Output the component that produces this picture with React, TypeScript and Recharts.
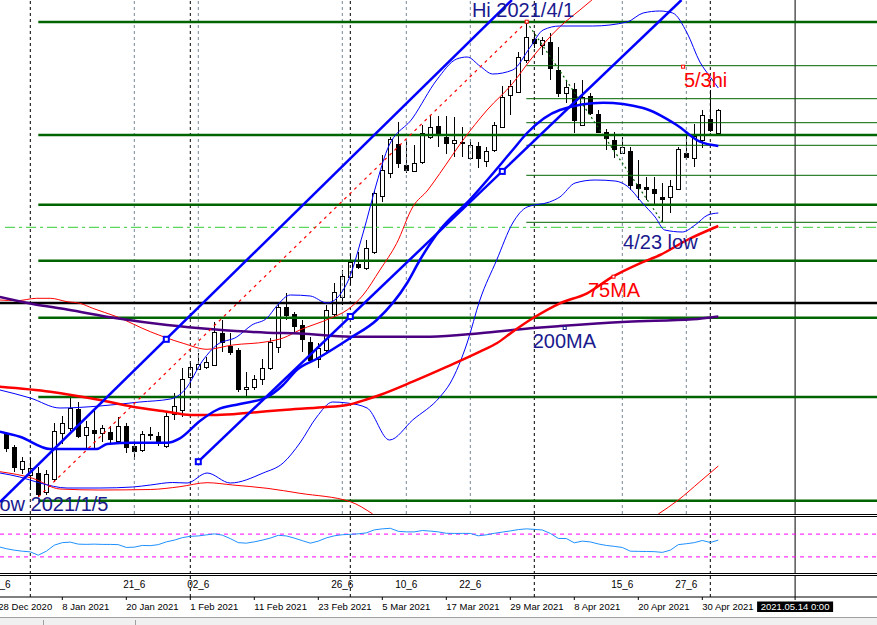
import React from 'react'
import { ComposedChart, Bar, Line, Scatter, XAxis, YAxis, ReferenceLine } from 'recharts'

const W = 877
const MAIN_H = 514
const X_MIN = -0.7875
const X_MAX = X_MIN + W / 8
const FONT = '"Liberation Sans", Arial, sans-serif'
const NAVY = '#1a1a8e'
const BLUE = '#0000ff'
const RED = '#ff0000'
const GREEN = '#006400'

// daily bars, index 0 = 29 Dec 2020; price in pane units (0 = bottom of main pane)
const OPEN = [81, 67, 45, 39, 41, 22, 35, 81, 86, 105, 79, 84, 81, 82, 73, 88, 68, 64, 79.5, 78, 68, 100, 104, 137, 145, 147, 149, 181, 168, 164, 125, 127, 135, 146, 167, 207, 200, 189, 172, 155, 164, 200, 217, 237, 250, 246, 262, 318, 341, 370, 349, 343, 352, 377, 388, 377, 371, 372.5, 356, 368, 353, 364, 387, 419, 422, 454, 475, 469, 472, 444, 421, 425, 389, 418, 400, 382, 374, 361, 363, 330, 327, 325, 317, 317, 325, 361, 356, 374, 395, 381]
const HIGH = [82.3, 69, 57, 56, 47, 44, 91, 98, 116, 112, 93, 104, 89, 88, 97, 91, 73, 83, 87, 82, 102, 121, 146, 151, 161, 157, 192, 194, 181, 166, 142, 139, 155, 176, 212, 221, 202, 194, 177, 171, 209, 231, 244, 260, 262, 274, 323, 359, 377, 392, 374, 369, 389, 399, 398, 398, 397, 387, 375, 372, 367, 392, 428, 434, 462, 492, 481, 477, 481, 467, 434, 431, 434, 421, 404, 385, 382, 377, 367, 354, 337, 337, 331, 334, 367, 382, 390, 404, 424, 405]
const LOW = [62.3, 42, 40, 24, 17, 19, 32, 70, 83, 76, 65, 66, 72, 71, 70, 61, 54, 62, 74, 68, 66, 94, 97, 126, 144, 145, 148, 162, 159, 122, 118, 124, 129, 144, 161, 194, 181, 162, 151, 146, 162, 197, 209, 229, 245, 244, 260, 312, 336, 346, 341, 342, 350, 375, 367, 360, 357, 357, 354, 346, 347, 362, 386, 399, 421, 451, 466, 459, 434, 417, 411, 381, 388.5, 399, 381, 364, 356, 360, 324, 314, 314, 310, 292, 301, 324, 354, 347, 366, 382, 380]
const CLOSE = [66, 47, 53, 46, 20, 40, 83, 91, 106, 78, 87, 81, 86, 75, 88, 67, 63, 80, 80.5, 71, 98, 108, 135, 147, 150, 152, 182, 172, 162, 125, 127.5, 135, 146, 172, 207, 199, 188, 175, 154, 166, 204, 222, 238, 252, 247, 266, 321, 344, 375, 351, 344, 351, 381, 387, 381, 371, 374, 372, 369, 356, 363, 389, 417, 428, 457, 477, 471, 474, 446, 421, 427, 394, 417, 401, 382, 376, 365, 367, 329, 326, 324.5, 321, 314.5, 328, 365, 357, 378, 399, 384, 404]

// indicators, [bar, value]
const MA20 = [[-0.8, 82.3], [1.7, 77.3], [5.5, 65], [11.3, 65], [12.6, 70], [15.8, 71.3], [20.1, 71.3], [21.7, 75.7], [24.2, 93], [26.3, 104], [29.2, 110], [32.6, 117], [34.6, 129], [36.3, 144], [39, 156], [43, 176], [46.3, 194], [50.1, 231], [51.7, 254], [54.2, 284], [57.9, 314], [63.3, 364], [65.1, 381], [69.2, 404], [74.6, 411.3], [79.6, 406], [83.8, 389], [86.7, 372.3], [89, 368]]
const BB_UP = [[-0.8, 124], [3, 116], [6.7, 106], [11.7, 108], [16.7, 112], [20.5, 115], [22.3, 124], [24.6, 154], [26.3, 169], [28.8, 177], [30.7, 189], [32.6, 196], [33.8, 208], [35.5, 219], [38, 218], [40.1, 211], [42.6, 231], [44.6, 281], [46.3, 331], [47.6, 364], [50.8, 396], [53.8, 434], [56.3, 455], [57.6, 457], [59.2, 448], [60.8, 440], [63.3, 444], [65.5, 467], [67.1, 484], [69.2, 488], [73.3, 488], [77.6, 492], [79.6, 501], [81.7, 503], [83.3, 501], [85.1, 481], [86.7, 452], [88, 437], [89, 426]]
const BB_LOW = [[-0.8, 41], [1.7, 37], [4.2, 31], [7.6, 26], [11.7, 26], [15.8, 27], [18, 29], [20.8, 31.5], [22.6, 31], [25.1, 41], [28, 31], [32.1, 41], [34.6, 51], [36.7, 71], [38.8, 97], [40.8, 112], [42.6, 111], [45.1, 106], [47.9, 74], [50.8, 94], [54.2, 117], [55.5, 131], [57.6, 171], [59.2, 214], [61.3, 254], [63.3, 291], [65.1, 307], [67.9, 312], [69.2, 317], [71.1, 331], [73.6, 334], [76.1, 333], [77.6, 328], [79.5, 311], [81.1, 297], [82.3, 284], [84.5, 282], [86.1, 289], [87.7, 299], [89, 301]]
const MA75 = [[-0.8, 127.3], [5.5, 122.3], [11.7, 114], [15.8, 107.3], [20.1, 102.3], [23, 99], [26.3, 99], [30.5, 101.3], [34.6, 104], [39.6, 106.7], [42.6, 109], [45.1, 114.7], [46.7, 119], [50.8, 132.3], [55.1, 147.3], [59.2, 162.3], [61.3, 170.7], [63.3, 182.3], [65.8, 195.7], [69.2, 210.7], [72.6, 220.7], [75.8, 237.3], [79.2, 250.7], [81.7, 259], [85.1, 274], [89, 288]]
const BB75_UP = [[-0.8, 214], [1.3, 213.3], [3.8, 215.7], [5.5, 215.7], [7.6, 212.3], [9.2, 210.7], [10.8, 205.7], [13.8, 197.3], [18, 182.3], [22.1, 170.7], [25.1, 164.7], [28.3, 169], [32.6, 172.3], [34.6, 176], [36.7, 184], [40.5, 195.7], [42.6, 204], [44.6, 219], [46.7, 244], [48.8, 270.7], [50.8, 307], [52.7, 324], [54.2, 340.7], [57.1, 374], [60.1, 404], [63.3, 430.7], [65.5, 454], [69.2, 487.3], [71.7, 504], [73.2, 514]]
const BB75_LOW_A = [[-0.8, 42.3], [3.3, 35.7], [6.7, 25], [11.7, 24], [18, 24.5], [21.7, 27.3], [25.1, 31.3], [28.3, 29], [32.6, 25.7], [36.7, 20.7], [43, 12.3], [45.8, 0]]
const BB75_LOW_B = [[81.5, 0], [84, 14], [86.7, 32.3], [89, 48]]
const MA200 = [[-0.8, 217], [3.3, 210], [7.6, 204.5], [13.8, 195.7], [20.1, 189], [25.8, 184.7], [32.6, 181.3], [36.7, 180.5], [43, 177.3], [53, 177.3], [59.2, 180.7], [65.5, 185.7], [69.2, 188], [77.6, 192.3], [85.8, 194.7], [89, 197.5]]

// drawn objects
const UPPER_CHANNEL = [[X_MIN, 12], [63.2, 514]]
const LOWER_CHANNEL = [[24, 52.3], [84.4, 514]]
const RED_TREND = [[4, 17], [65.05, 492.3]]
const GREEN_TREND = [[65.05, 492], [82, 292]]
const FIB_LEVELS = [492, 379, 309.3, 253.3, 196.3, 117, 13.3]
const FIB_FROM = 4
const RETRACE_LEVELS = [448.3, 415.3, 391.3, 368.7, 338.7, 291.7]
const RETRACE_FROM = 65
const LIME_LEVEL = 286.7
const LIME_FROM = -0.16
const BLACK_LEVEL = 211
const BLACK_VLINES = [3, 23, 43, 66, 88]
const GREY_VLINES = [16, 24, 42, 50, 58, 77, 85]
const CURSOR_K = 98.6

const MARKERS = [
  { k: 20, v: 174.7, color: BLUE, size: 5, sw: 2 },
  { k: 24, v: 52.3, color: BLUE, size: 5, sw: 2 },
  { k: 43, v: 197.5, color: BLUE, size: 5, sw: 2 },
  { k: 62, v: 342.6, color: BLUE, size: 5, sw: 2 },
  { k: 65.05, v: 492.3, color: RED, size: 3, sw: 1 },
  { k: 84.6, v: 447.3, color: RED, size: 3, sw: 1 },
  { k: 75.9, v: 237.3, color: RED, size: 3, sw: 1 },
  { k: 69.8, v: 186, color: NAVY, size: 3, sw: 1 },
]

const NOTES = [
  { k: 58.2, v: 497.5, text: 'Hi 2021/4/1', color: NAVY },
  { k: 84.7, v: 427, text: '5/3hi', color: RED },
  { k: 77.1, v: 265, text: '4/23 low', color: NAVY },
  { k: 72.7, v: 217, text: '75MA', color: RED },
  { k: 65.8, v: 166, text: '200MA', color: NAVY },
  { k: -1.41, v: 3, text: 'low 2021/1/5', color: NAVY },
]

// RSI from bar -1
const RSI_FIRST = -1
const RSI = [48.0, 44.4, 41.8, 40.0, 38.8, 33.0, 40.0, 50.6, 55.0, 55.9, 52.4, 52.0, 52.4, 51.9, 51.9, 51.5, 46.6, 47.1, 50.1, 49.7, 51.5, 56.4, 59.4, 63.8, 66.1, 66.8, 68.6, 70.4, 68.2, 62.1, 55.0, 54.1, 56.4, 59.4, 63.0, 67.9, 66.8, 63.0, 58.5, 54.1, 57.7, 63.3, 67.0, 68.9, 69.6, 70.5, 72.1, 77.4, 79.2, 80.2, 74.9, 73.9, 73.9, 76.3, 75.3, 73.9, 71.4, 71.2, 71.2, 71.2, 67.0, 68.7, 71.4, 73.5, 75.6, 77.9, 79.2, 78.3, 77.2, 71.2, 62.4, 62.2, 54.7, 57.7, 56.3, 52.7, 50.1, 48.5, 46.6, 40.0, 39.7, 39.5, 39.2, 37.9, 41.8, 51.5, 53.1, 55.0, 58.8, 55.3, 59.4]

const DATE_TICKS = [-1, 7, 15, 23, 31, 39, 47, 55, 63, 71, 79, 87]
const DATE_LABELS = ['28 Dec 2020', '8 Jan 2021', '20 Jan 2021', '1 Feb 2021', '11 Feb 2021', '23 Feb 2021', '5 Mar 2021', '17 Mar 2021', '29 Mar 2021', '8 Apr 2021', '20 Apr 2021', '30 Apr 2021']
const CURSOR_LABEL = '2021.05.14 0:00'
const WEEK_TICKS = [-0.15, 16, 24, 42, 50, 58, 77, 85]
const WEEK_LABELS = ['_6', '21_6', '02_6', '26_6', '10_6', '22_6', '15_6', '27_6']

const CANDLES = OPEN.map((o, i) => ({ k: i, o, h: HIGH[i], l: LOW[i], c: CLOSE[i] }))
const RSI_DATA = RSI.map((v, i) => ({ k: i + RSI_FIRST, v }))
const WEEK_DATA = WEEK_TICKS.map((k, i) => ({ k, v: 0.5, text: WEEK_LABELS[i] }))
const pts = (a: number[][]) => a.map(([k, v]) => ({ k, v }))

function Candle(props: any) {
  const { x, y, width, height, payload } = props
  if (payload == null || x == null) return null
  const top = Math.min(y, y + height)
  const bot = Math.max(y, y + height)
  const span = payload.h - payload.l
  const s = span > 0 ? (bot - top) / span : 0
  const yO = top + (payload.h - payload.o) * s
  const yC = top + (payload.h - payload.c) * s
  const c = Math.round(x + width / 2)
  const bTop = Math.round(Math.min(yO, yC))
  const bBot = Math.max(Math.round(Math.max(yO, yC)), bTop + 1)
  const up = payload.c >= payload.o
  return (
    <g>
      <line x1={c + 0.5} x2={c + 0.5} y1={Math.round(top)} y2={Math.round(bot)} stroke="#000" />
      <rect x={c - 1.5} y={bTop + 0.5} width={4} height={bBot - bTop} fill={up ? '#fff' : '#000'} stroke="#000" />
    </g>
  )
}

function Square(props: any) {
  const { cx, cy, payload } = props
  const s = payload.size
  return <rect x={cx - s / 2} y={cy - s / 2} width={s} height={s} fill="#fff" stroke={payload.color} strokeWidth={payload.sw} />
}

function Note(props: any) {
  const { cx, cy, payload } = props
  return <text x={cx} y={cy} fill={payload.color} fontSize={20} fontFamily={FONT}>{payload.text}</text>
}

function WeekLabel(props: any) {
  const { cx, cy, payload } = props
  return <text x={cx} y={cy + 1} textAnchor="middle" fill="#000" fontSize={10} fontFamily={FONT}>{payload.text}</text>
}

function DateTick(props: any) {
  const { x, y, payload } = props
  const i = DATE_TICKS.indexOf(payload.value)
  if (i < 0) {
    return (
      <g>
        <rect x={x - 38} y={y - 0.5} width={76} height={10.5} fill="#000" />
        <text x={x} y={y + 8} textAnchor="middle" fill="#fff" fontSize={9.5} fontFamily={FONT}>{CURSOR_LABEL}</text>
      </g>
    )
  }
  return <text x={x} y={y + 8} fill="#000" fontSize={9.5} fontFamily={FONT}>{DATE_LABELS[i]}</text>
}

const M0 = { top: 0, right: 0, bottom: 0, left: 0 }
const rule = (top: number, extra: any = {}) => (
  <div style={{ position: 'absolute', left: 0, top, width: W, height: 1, background: '#000', ...extra }} />
)

function curve(data: number[][], stroke: string, width: number, key: string, extra: any = {}) {
  return (
    <Line key={key} data={pts(data)} dataKey="v" stroke={stroke} strokeWidth={width} dot={false}
      type="monotone" isAnimationActive={false} {...extra} />
  )
}

export default function App() {
  return (
    <div style={{ position: 'absolute', left: 0, top: 0, width: W, height: 625, background: '#fff', overflow: 'hidden', fontFamily: FONT }}>
      <div style={{ position: 'absolute', left: 0, top: 0 }}>
        <ComposedChart width={W} height={MAIN_H} data={CANDLES} margin={M0}>
          <XAxis type="number" dataKey="k" domain={[X_MIN, X_MAX]} allowDataOverflow hide />
          <YAxis type="number" domain={[0, MAIN_H]} allowDataOverflow hide />
          {GREY_VLINES.map(k => <ReferenceLine key={'g' + k} x={k} stroke="#778899" strokeDasharray="3 3" />)}
          {BLACK_VLINES.map(k => <ReferenceLine key={'b' + k} x={k} stroke="#000" strokeDasharray="3 3" />)}
          <ReferenceLine x={CURSOR_K} stroke="#000" />
          <ReferenceLine segment={[{ x: LIME_FROM, y: LIME_LEVEL }, { x: X_MAX, y: LIME_LEVEL }]} stroke="#32cd32" strokeDasharray="10 4 3 4" />
          {RETRACE_LEVELS.map(v => (
            <ReferenceLine key={'r' + v} segment={[{ x: RETRACE_FROM, y: v }, { x: X_MAX, y: v }]} stroke={GREEN} />
          ))}
          {FIB_LEVELS.map(v => (
            <ReferenceLine key={'f' + v} segment={[{ x: FIB_FROM, y: v }, { x: X_MAX, y: v }]} stroke={GREEN} strokeWidth={2.5} />
          ))}
          <ReferenceLine y={BLACK_LEVEL} stroke="#000" strokeWidth={2.5} />
          <Bar dataKey={(d: any) => [d.l, d.h]} barSize={5} shape={<Candle />} isAnimationActive={false} />
          {curve(BB75_UP, RED, 1, 'bb75u')}
          {curve(BB75_LOW_A, RED, 1, 'bb75la')}
          {curve(BB75_LOW_B, RED, 1, 'bb75lb')}
          {curve(BB_UP, BLUE, 1, 'bbu')}
          {curve(BB_LOW, BLUE, 1, 'bbl')}
          {curve(MA200, '#4b0082', 2.5, 'ma200')}
          {curve(MA75, RED, 2.5, 'ma75')}
          {curve(MA20, BLUE, 2.5, 'ma20')}
          {curve(UPPER_CHANNEL, BLUE, 2.5, 'uch', { type: 'linear' })}
          {curve(LOWER_CHANNEL, BLUE, 2.5, 'lch', { type: 'linear' })}
          {curve(RED_TREND, RED, 1.2, 'rtr', { type: 'linear', strokeDasharray: '3 4' })}
          {curve(GREEN_TREND, GREEN, 1.2, 'gtr', { type: 'linear', strokeDasharray: '2 3' })}
          <Scatter data={MARKERS} dataKey="v" shape={<Square />} isAnimationActive={false} />
          <Scatter data={NOTES} dataKey="v" shape={<Note />} isAnimationActive={false} />
        </ComposedChart>
      </div>
      {rule(514)}
      {rule(516)}
      <div style={{ position: 'absolute', left: 0, top: 517 }}>
        <ComposedChart width={W} height={57} data={RSI_DATA} margin={M0}>
          <XAxis type="number" dataKey="k" domain={[X_MIN, X_MAX]} allowDataOverflow hide />
          <YAxis type="number" domain={[0, 100]} allowDataOverflow hide />
          {BLACK_VLINES.map(k => <ReferenceLine key={'b' + k} x={k} stroke="#000" strokeDasharray="3 3" />)}
          <ReferenceLine x={CURSOR_K} stroke="#000" />
          <ReferenceLine y={70} stroke="#ff00ff" strokeDasharray="4 4" />
          <ReferenceLine y={30} stroke="#ff00ff" strokeDasharray="4 4" />
          <Line dataKey="v" stroke="#1e90ff" strokeWidth={1} dot={false} type="linear" isAnimationActive={false} />
        </ComposedChart>
      </div>
      {rule(573)}
      {rule(575)}
      <div style={{ position: 'absolute', left: 0, top: 576 }}>
        <ComposedChart width={W} height={49} margin={M0}>
          <XAxis type="number" dataKey="k" domain={[X_MIN, X_MAX]} allowDataOverflow
            ticks={[...DATE_TICKS, CURSOR_K]} interval={0} height={28} tickSize={3}
            stroke="#000" tick={<DateTick />} />
          <YAxis type="number" domain={[0, 1]} hide />
          {BLACK_VLINES.map(k => <ReferenceLine key={'b' + k} x={k} stroke="#000" strokeDasharray="3 3" />)}
          <ReferenceLine x={CURSOR_K} stroke="#000" />
          <Scatter data={WEEK_DATA} dataKey="v" shape={<WeekLabel />} isAnimationActive={false} />
        </ComposedChart>
      </div>
      <div style={{ position: 'absolute', left: 0, top: 617, width: W, height: 8, background: '#f0f0f0', borderTop: '1px solid #a0a0a0' }} />
      <div style={{ position: 'absolute', left: 43, top: 620, width: 1, height: 5, background: '#a0a0a0' }} />
      <div style={{ position: 'absolute', left: 135, top: 620, width: 1, height: 5, background: '#a0a0a0' }} />
    </div>
  )
}
